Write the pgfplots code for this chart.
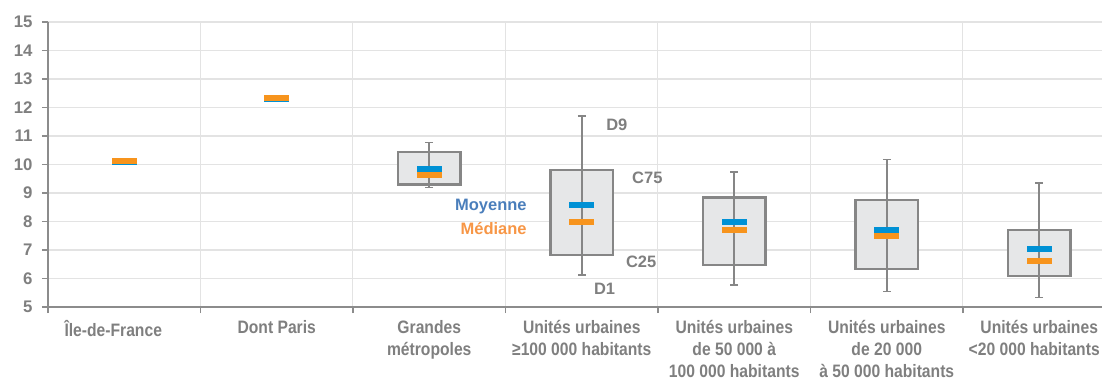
\documentclass[border=0pt]{standalone}
\usepackage{fontspec}
\setmainfont{Liberation Sans}
\newfontfamily\condfont[FakeStretch=0.87]{Liberation Sans}
\usepackage{pgfplots}
\pgfplotsset{compat=1.18}
\usepackage{pgfplotstable}
\usepgfplotslibrary{statistics}
\definecolor{tgray}{HTML}{7F7F7F}
\definecolor{agray}{HTML}{8C8C8C}
\definecolor{ggray}{HTML}{E3E3E3}
\definecolor{boxfill}{HTML}{E6E7E8}
\definecolor{boxedge}{HTML}{868686}
\definecolor{meanblue}{HTML}{0091D5}
\definecolor{medorange}{HTML}{F7941D}
\definecolor{moytext}{HTML}{4A7EBB}
\definecolor{medtext}{HTML}{F79646}

% x D1 C25 C75 D9
\pgfplotstableread{
x d1 c25 c75 d9
2 9.20 9.30 10.43 10.77
3 6.13 6.82 9.80 11.71
4 5.77 6.48 8.85 9.74
5 5.54 6.33 8.75 10.18
6 5.33 6.08 7.71 9.35
}\whisk

% x moyenne mediane
\pgfplotstableread{
x mean med
0 10.08 10.12
1 12.30 12.33
2 9.83 9.62
3 8.57 7.97
4 7.97 7.71
5 7.70 7.50
6 7.02 6.60
}\centers

\newcommand{\lbl}{\bfseries\fontsize{16.5}{22.5}\selectfont}
\newcommand{\catf}{\condfont\bfseries\fontsize{18}{22}\selectfont}
\newcommand{\tickf}{\bfseries\fontsize{16.8}{20}\selectfont}

\begin{document}
\begin{tikzpicture}[font=\lbl]
\useasboundingbox (-48pt,-76pt) rectangle (1054pt,307pt);
\begin{axis}[
  at={(0,0)}, anchor=south west,
  scale only axis, width=1067.5pt, height=285pt,
  xmin=-0.5, xmax=6.5, ymin=5, ymax=15,
  ytick={5,...,15},
  xtick={0,...,6},
  xticklabels={Île-de-France\hspace*{22pt}, Dont Paris, Grandes\\métropoles, Unités urbaines\\≥100 000 habitants, Unités urbaines\\de 50 000 à\\100 000 habitants, Unités urbaines\\de 20 000\\à 50 000 habitants, Unités urbaines\\<20 000 habitants\hspace*{10pt}},
  major x tick style={draw=none},
  minor xtick={-0.5,0.5,...,6.5},
  xminorgrids, ymajorgrids,
  minor x grid style={ggray, line width=1pt},
  major y grid style={ggray, line width=1.2pt},
  axis x line*=bottom, axis y line*=left,
  axis line style={agray, line width=1.5pt, -},
  tick style={agray, line width=1.2pt},
  tick align=outside, major tick length=6pt, minor tick length=6pt,
  /pgf/number format/assume math mode=true,
  yticklabel style={text=tgray, font=\tickf, xshift=-6pt},
  xticklabel style={text=tgray, font=\catf, align=center, anchor=north, yshift=-4pt},
  boxplot/draw direction=y,
  boxplot/every box/.style={draw=boxedge, fill=boxfill, line width=2.5pt},
  boxplot/every whisker/.style={draw=none},
  boxplot/every median/.style={draw=none},
]
\addplot[boxplot prepared={draw position=2, lower whisker=9.20, lower quartile=9.30, median=9.62, upper quartile=10.43, upper whisker=10.77, box extend=0.41}] coordinates {};
\addplot[boxplot prepared={draw position=3, lower whisker=6.13, lower quartile=6.82, median=7.97, upper quartile=9.80, upper whisker=11.71, box extend=0.41}] coordinates {};
\addplot[boxplot prepared={draw position=4, lower whisker=5.77, lower quartile=6.48, median=7.71, upper quartile=8.85, upper whisker=9.74, box extend=0.41}] coordinates {};
\addplot[boxplot prepared={draw position=5, lower whisker=5.54, lower quartile=6.33, median=7.50, upper quartile=8.75, upper whisker=10.18, box extend=0.41}] coordinates {};
\addplot[boxplot prepared={draw position=6, lower whisker=5.33, lower quartile=6.08, median=6.60, upper quartile=7.71, upper whisker=9.35, box extend=0.41}] coordinates {};

\addplot[mark=none, draw=none, forget plot,
  error bars/.cd, y dir=both, y explicit,
  error bar style={draw=boxedge, line width=1.6pt},
  error mark options={draw=boxedge, rotate=90, mark size=3.8pt, line width=1.6pt}]
  table[x=x, y=c25, y error plus expr=\thisrow{d9}-\thisrow{c25}, y error minus expr=\thisrow{c25}-\thisrow{d1}] {\whisk};

\addplot[only marks, mark=-, mark size=12.5pt, mark options={line width=6pt, draw=meanblue}] table[x=x, y=mean] {\centers};
\addplot[only marks, mark=-, mark size=12.5pt, mark options={line width=6pt, draw=medorange}] table[x=x, y=med] {\centers};

\node[text=tgray] at (axis cs:3.23,11.39) {D9};
\node[text=tgray] at (axis cs:3.43,9.53) {C75};
\node[text=tgray] at (axis cs:3.39,6.58) {C25};
\node[text=tgray] at (axis cs:3.15,5.63) {D1};
\node[text=moytext, anchor=east, inner sep=0pt] at (axis cs:2.64,8.51) {Moyenne};
\node[text=medtext, anchor=east, inner sep=0pt] at (axis cs:2.64,7.74) {Médiane};
\end{axis}
\end{tikzpicture}
\end{document}
